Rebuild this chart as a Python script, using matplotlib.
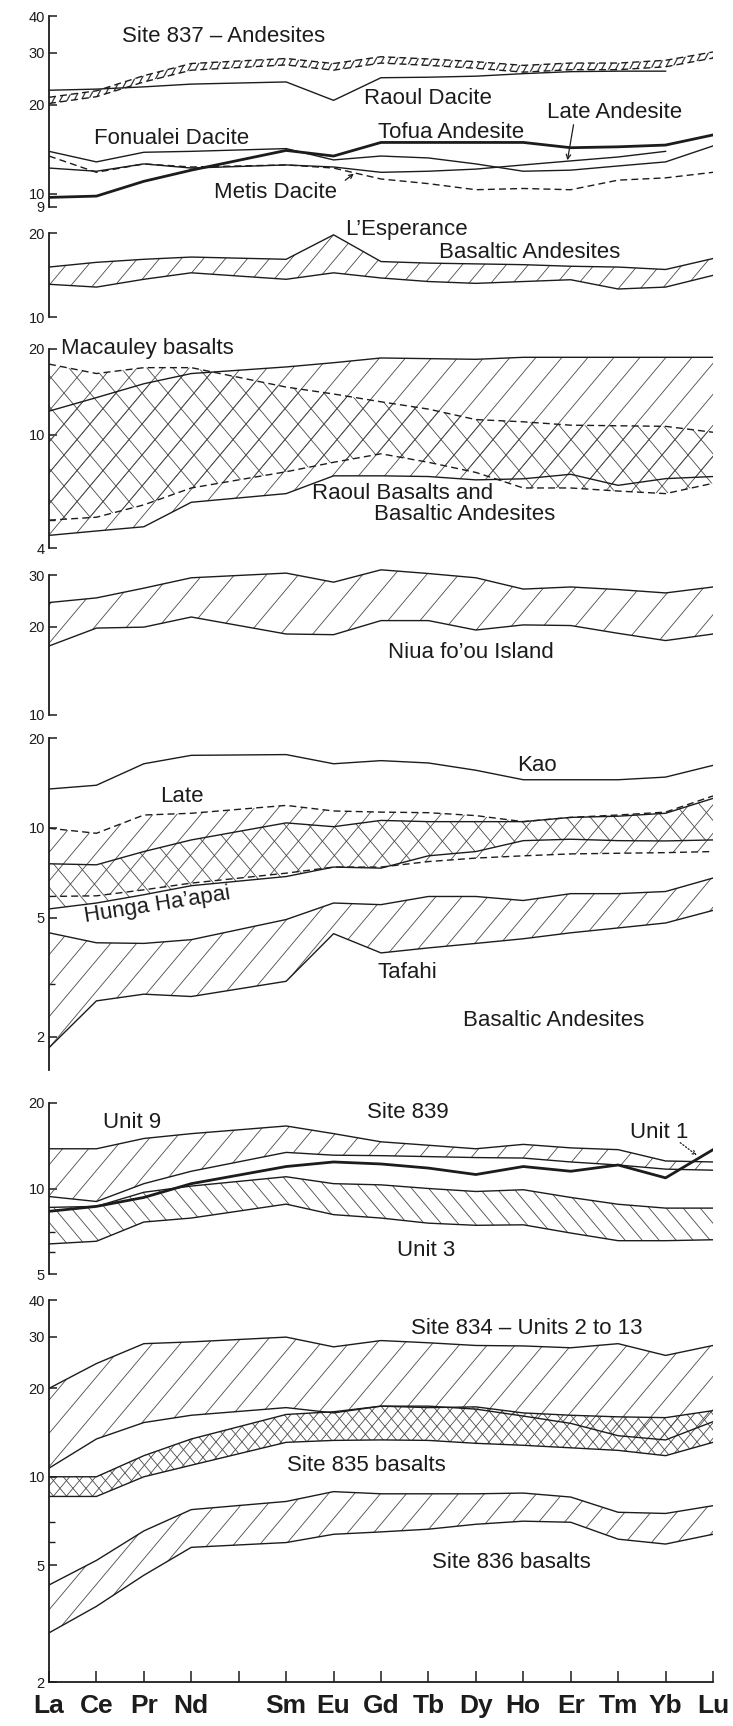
import numpy as np
import matplotlib
matplotlib.use("Agg")
import matplotlib.pyplot as plt
from matplotlib.collections import LineCollection
from matplotlib.ticker import FixedLocator, NullFormatter

plt.rcParams['font.family'] = ['Liberation Sans', 'DejaVu Sans']

W, H = 733, 1726
X0, X1 = 49, 713          # La and Lu columns, pixels
INK = '#1c1c1c'

ree = ['La', 'Ce', 'Pr', 'Nd', 'Pm', 'Sm', 'Eu', 'Gd', 'Tb', 'Dy', 'Ho', 'Er', 'Tm', 'Yb', 'Lu']
# analysed elements (no Pm)
xs = [0, 1, 2, 3, 5, 6, 7, 8, 9, 10, 11, 12, 13, 14]
nan = np.nan

# --- Site 837 andesites and Tofua arc silicic lavas
s837_lo = [20.2, 21.3, 23.9, 26.2, 27.3, 26.2, 27.7, 27.2, 26.6, 25.8, 26.3, 26.3, 26.9, 28.8]
s837_hi = [21.2, 22.3, 25.1, 27.6, 28.7, 27.6, 29.1, 28.6, 28.0, 27.2, 27.7, 27.7, 28.3, 30.2]
raoul_dacite = [22.4, 22.6, 23.0, 23.5, 23.9, 20.7, 24.7, 24.8, 25.0, 25.5, 25.9, 26.0, 26.0, nan]
fonualei = [13.9, 12.8, 13.8, 13.9, 14.2, 13.0, 13.4, 13.2, 12.6, 11.9, 12.0, 12.4, 12.8, 14.5]
tofua = [9.7, 9.8, 11.0, 12.0, 14.0, 13.4, 14.9, 14.9, 14.9, 14.9, 14.3, 14.4, 14.6, 15.8]
late_andesite = [12.2, 11.9, 12.6, 12.2, 12.5, 12.3, 11.8, 11.9, 12.1, 12.5, 12.9, 13.3, 13.9, nan]
metis = [13.4, 11.8, 12.6, 12.3, 12.5, 12.2, 11.2, 10.8, 10.3, 10.4, 10.3, 11.1, 11.3, 11.8]

# --- L'Esperance basaltic andesites
lesp_hi = [15.1, 15.7, 16.1, 16.4, 16.1, 19.7, 15.8, 15.6, 15.5, 15.4, 15.2, 15.1, 14.8, 16.2]
lesp_lo = [13.1, 12.8, 13.65, 14.4, 13.65, 14.4, 13.8, 13.4, 13.2, 13.4, 13.6, 12.6, 12.8, 14.1]

# --- Macauley basalts / Raoul basalts and basaltic andesites
mac_hi = [17.7, 16.4, 17.2, 17.2, 14.7, 13.9, 13.05, 12.3, 11.3, 11.1, 10.8, 10.75, 10.7, 10.2]
mac_lo = [5.01, 5.13, 5.67, 6.5, 7.41, 8.0, 8.57, 8.0, 7.37, 6.5, 6.5, 6.34, 6.21, 6.75]
raoul_hi = [12.1, 13.5, 15.1, 16.4, 17.3, 17.9, 18.6, 18.5, 18.4, 18.7, 18.7, 18.7, 18.7, 18.7]
raoul_lo = [4.43, 4.59, 4.75, 5.79, 6.21, 7.17, 7.17, 7.13, 6.94, 7.0, 7.26, 6.64, 7.01, 7.13]

# --- Niua fo'ou Island
niua_hi = [24.2, 25.1, 27.1, 29.4, 30.5, 28.4, 31.3, 30.4, 29.4, 26.9, 27.35, 26.8, 26.1, 27.35]
niua_lo = [17.2, 19.8, 19.95, 21.6, 18.9, 18.8, 21.0, 21.0, 19.5, 20.3, 20.2, 19.0, 17.95, 18.9]

# --- Kao, Late, Hunga Ha'apai, Tafahi
kao = [13.5, 13.9, 16.4, 17.5, 17.6, 16.4, 16.8, 16.5, 15.6, 14.5, 14.5, 14.5, 14.8, 16.2]
late_hi = [9.98, 9.6, 11.05, 11.2, 11.9, 11.4, 11.3, 11.25, 11.0, 10.5, 10.85, 11.05, 11.3, 12.8]
late_lo = [5.9, 5.93, 6.21, 6.54, 7.06, 7.4, 7.4, 7.72, 7.93, 8.07, 8.19, 8.23, 8.27, 8.34]
hunga_hi = [7.59, 7.53, 8.34, 9.12, 10.4, 10.1, 10.6, 10.5, 10.5, 10.5, 10.85, 10.95, 11.2, 12.56]
hunga_lo = [5.36, 5.61, 5.98, 6.41, 6.88, 7.4, 7.34, 8.07, 8.34, 9.07, 9.17, 9.07, 9.05, 9.12]
tafahi_hi = [4.46, 4.13, 4.11, 4.23, 4.94, 5.61, 5.54, 5.9, 5.9, 5.72, 6.03, 6.03, 6.13, 6.8]
tafahi_lo = [1.84, 2.64, 2.78, 2.73, 3.07, 4.43, 3.82, 3.97, 4.11, 4.26, 4.46, 4.63, 4.81, 5.3]

# --- Site 839
unit9_hi = [13.8, 13.8, 15.0, 15.6, 16.6, 15.6, 14.6, 14.2, 13.8, 14.3, 13.9, 13.7, 12.5, 12.4]
unit9_lo = [9.37, 9.0, 10.4, 11.5, 13.4, 13.1, 13.05, 12.95, 12.85, 12.8, 12.4, 12.1, 11.7, 11.6]
unit1 = [8.31, 8.65, 9.3, 10.4, 11.95, 12.4, 12.2, 11.8, 11.2, 11.95, 11.5, 12.1, 10.9, 13.7]
unit3_hi = [8.58, 8.65, 9.7, 10.2, 11.0, 10.4, 10.3, 10.0, 9.76, 9.9, 9.3, 8.8, 8.53, 8.53]
unit3_lo = [6.38, 6.52, 7.62, 7.87, 8.81, 8.09, 7.87, 7.55, 7.42, 7.45, 6.97, 6.55, 6.55, 6.6]

# --- Sites 834, 835, 836
s834_hi = [20.0, 24.3, 28.4, 28.8, 29.9, 27.7, 29.1, 28.6, 28.0, 27.9, 27.5, 28.4, 25.9, 28.0]
s834_lo = [10.7, 13.45, 15.3, 16.2, 17.2, 16.5, 17.4, 17.4, 17.0, 16.1, 15.2, 13.8, 13.35, 15.4]
s835_hi = [10.0, 10.0, 11.8, 13.45, 16.3, 16.65, 17.4, 17.2, 17.3, 16.5, 16.2, 16.0, 15.9, 16.8]
s835_lo = [8.57, 8.57, 10.0, 10.95, 13.1, 13.3, 13.35, 13.3, 13.0, 12.8, 12.55, 12.3, 11.8, 13.1]
s836_hi = [4.28, 5.19, 6.54, 7.73, 8.24, 8.9, 8.75, 8.75, 8.75, 8.8, 8.53, 7.57, 7.5, 7.97]
s836_lo = [2.94, 3.62, 4.62, 5.75, 5.97, 6.37, 6.49, 6.63, 6.89, 7.06, 7.0, 6.13, 5.9, 6.37]

fig = plt.figure(figsize=(W / 100, H / 100), dpi=100)
fig.patch.set_facecolor('white')


def panel(top, bottom, lo, hi, ticks, minor=(), spine=None):
    ax = fig.add_axes([X0 / W, 1 - bottom / H, (X1 - X0) / W, (bottom - top) / H])
    ax.set_yscale('log')
    ax.set_ylim(lo, hi)
    ax.set_xlim(0, 14)
    ax.patch.set_alpha(0)
    for s in ('top', 'right', 'bottom'):
        ax.spines[s].set_visible(False)
    ax.spines['left'].set_linewidth(1.3)
    ax.spines['left'].set_color(INK)
    if spine:
        ax.spines['left'].set_bounds(*spine)
    ax.yaxis.set_major_locator(FixedLocator(ticks))
    ax.set_yticklabels([str(t) for t in ticks])
    ax.yaxis.set_minor_locator(FixedLocator(list(minor)))
    ax.yaxis.set_minor_formatter(NullFormatter())
    ax.tick_params(axis='y', which='major', direction='in', length=6, width=1.1,
                   labelsize=10.5, pad=3, colors=INK)
    ax.tick_params(axis='y', which='minor', direction='in', length=4, width=1.0, colors=INK)
    ax.set_xticks([])
    return ax


def hatch(ax, lo, hi, angle, step, lw=0.6, color='#4a4a4a'):
    """Diagonal line shading between two curves, clipped to the band."""
    band = ax.fill_between(xs, lo, hi, facecolor='none', edgecolor='none', linewidth=0)
    path = band.get_paths()[0]
    bb = ax.get_position()
    w, h = bb.width * W, bb.height * H
    run = h / np.tan(np.radians(angle))
    segs = []
    for c in np.arange(-abs(run) - step, w + abs(run) + step, step):
        segs.append([(c / w, 0), ((c + run) / w, 1)])
    lc = LineCollection(segs, transform=ax.transAxes, colors=color, linewidths=lw)
    ax.add_collection(lc, autolim=False)
    lc.set_clip_path(path, ax.transData)


def line(ax, y, lw=1.0, ls='-'):
    if ls == '--':
        ax.plot(xs, y, color=INK, lw=lw, dashes=(5, 3), solid_capstyle='butt')
    else:
        ax.plot(xs, y, color=INK, lw=lw)


def label(x, y, s, size=16, **kw):
    fig.text(x / W, 1 - y / H, s, fontsize=size, color=INK, va='center', ha='left', **kw)


def px_to_data(ax, px, py):
    inv = ax.transData.inverted()
    return inv.transform((px, H - py))


# panel 1 : Site 837 andesites
ax1 = panel(16, 207, 9, 40, [9, 10, 20, 30, 40])
hatch(ax1, s837_lo, s837_hi, 62, 7, lw=0.9, color='#333333')
line(ax1, s837_lo, 1.0, '--')
line(ax1, s837_hi, 1.0, '--')
line(ax1, raoul_dacite, 1.0)
line(ax1, fonualei, 1.0)
line(ax1, tofua, 2.0)
line(ax1, late_andesite, 1.0)
line(ax1, metis, 1.0, '--')
label(122, 36, 'Site 837 – Andesites')
label(364, 98, 'Raoul Dacite')
label(547, 112, 'Late Andesite')
label(378, 132, 'Tofua Andesite')
label(94, 139, 'Fonualei Dacite')
label(214, 193, 'Metis Dacite')
ax1.annotate('', xy=px_to_data(ax1, 567, 163), xytext=px_to_data(ax1, 574, 122),
             arrowprops=dict(arrowstyle='->', lw=0.9, color=INK, mutation_scale=8))
ax1.annotate('', xy=px_to_data(ax1, 356, 172), xytext=px_to_data(ax1, 343, 182),
             arrowprops=dict(arrowstyle='->', lw=0.9, color=INK, mutation_scale=7))

# panel 2 : L'Esperance
ax2 = panel(233, 317, 10, 20, [10, 20])
hatch(ax2, lesp_lo, lesp_hi, 50, 22)
line(ax2, lesp_hi)
line(ax2, lesp_lo)
label(345, 229, 'L’Esperance')
label(439, 252, 'Basaltic Andesites')

# panel 3 : Macauley and Raoul
ax3 = panel(349, 548, 4, 20, [4, 10, 20], minor=[5])
hatch(ax3, raoul_lo, raoul_hi, 50, 26)
hatch(ax3, mac_lo, mac_hi, 50, 26)
hatch(ax3, mac_lo, mac_hi, 130, 26)
line(ax3, raoul_hi)
line(ax3, raoul_lo)
line(ax3, mac_hi, 1.0, '--')
line(ax3, mac_lo, 1.0, '--')
label(61, 348, 'Macauley basalts')
label(312, 493, 'Raoul Basalts and')
label(374, 514, 'Basaltic Andesites')

# panel 4 : Niua fo'ou (axis line stops at 30, the band rises a little above)
ax4 = panel(567, 715, 10, 32, [10, 20, 30], spine=(10, 30))
hatch(ax4, niua_lo, niua_hi, 50, 32)
line(ax4, niua_hi)
line(ax4, niua_lo)
label(388, 652, 'Niua fo’ou Island')

# panel 5 : Kao, Late, Hunga Ha'apai, Tafahi
ax5 = panel(738, 1070, 1.55, 20, [2, 5, 10, 20], minor=[3])
hatch(ax5, late_lo, late_hi, 50, 24)
hatch(ax5, hunga_lo, hunga_hi, 130, 24)
hatch(ax5, tafahi_lo, tafahi_hi, 50, 26)
line(ax5, kao)
line(ax5, late_hi, 1.0, '--')
line(ax5, late_lo, 1.0, '--')
line(ax5, hunga_hi)
line(ax5, hunga_lo)
line(ax5, tafahi_hi)
line(ax5, tafahi_lo)
label(517, 765, 'Kao')
label(160, 796, 'Late')
fig.text(157 / W, 1 - 905 / H, 'Hunga Ha’apai', fontsize=16, color=INK,
         ha='center', va='center', rotation=9)
label(378, 973, 'Tafahi')
label(463, 1020, 'Basaltic Andesites')

# panel 6 : Site 839
ax6 = panel(1103, 1274, 5, 20, [5, 10, 20], minor=[6, 7])
hatch(ax6, unit9_lo, unit9_hi, 50, 26)
hatch(ax6, unit3_lo, unit3_hi, 130, 17)
line(ax6, unit9_hi)
line(ax6, unit9_lo)
line(ax6, unit3_hi)
line(ax6, unit3_lo)
line(ax6, unit1, 2.0)
label(367, 1112, 'Site 839')
label(103, 1123, 'Unit 9')
label(630, 1133, 'Unit 1')
label(397, 1250, 'Unit 3')
ax6.annotate('', xy=px_to_data(ax6, 699, 1157), xytext=px_to_data(ax6, 678, 1141),
             arrowprops=dict(arrowstyle='->', lw=0.9, ls=':', color=INK, mutation_scale=7))

# panel 7 : Sites 834, 835, 836
ax7 = panel(1300, 1682, 2, 40, [2, 5, 10, 20, 30, 40], minor=[6, 7])
hatch(ax7, s834_lo, s834_hi, 50, 28)
hatch(ax7, s835_lo, s835_hi, 50, 13)
hatch(ax7, s835_lo, s835_hi, 130, 13)
hatch(ax7, s836_lo, s836_hi, 50, 26)
for band in (s834_hi, s834_lo, s835_hi, s835_lo, s836_hi, s836_lo):
    line(ax7, band)
label(411, 1328, 'Site 834 – Units 2 to 13')
label(287, 1465, 'Site 835 basalts')
label(432, 1562, 'Site 836 basalts')

ax7.spines['bottom'].set_visible(True)
ax7.spines['bottom'].set_linewidth(1.3)
ax7.spines['bottom'].set_color(INK)
ax7.set_xticks(range(len(ree)))
ax7.set_xticklabels([e if e != 'Pm' else '' for e in ree])
ax7.tick_params(axis='x', direction='in', length=7.7, width=1.1, pad=8.5, colors=INK)
for t in ax7.get_xticklabels():
    t.set_fontsize(19)
    t.set_fontweight('bold')

fig.savefig('out.png', dpi=100, facecolor='white')
